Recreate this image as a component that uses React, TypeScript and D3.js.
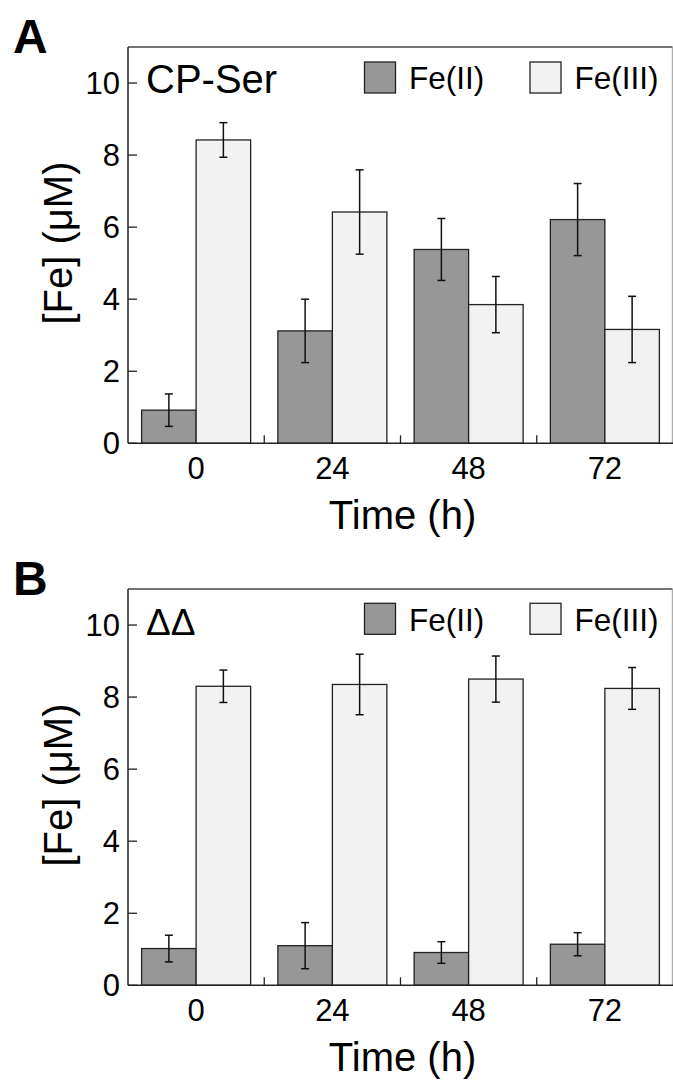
import React from "react";
import * as d3 from "d3";

const times = ["0", "24", "48", "72"];
const seriesNames = ["Fe(II)", "Fe(III)"];
const yTicks = [0, 2, 4, 6, 8, 10];

// Panel A: CP-Ser
const aFe2 = [0.92, 3.12, 5.38, 6.21];
const aFe2Err = [0.45, 0.88, 0.86, 1.0];
const aFe3 = [8.42, 6.42, 3.85, 3.16];
const aFe3Err = [0.48, 1.17, 0.78, 0.92];

// Panel B: ΔΔ
const bFe2 = [1.02, 1.1, 0.91, 1.14];
const bFe2Err = [0.37, 0.64, 0.3, 0.32];
const bFe3 = [8.3, 8.35, 8.5, 8.24];
const bFe3Err = [0.45, 0.84, 0.64, 0.58];

const panels = [
  { letter: "A", label: "CP-Ser", fe2: aFe2, fe2e: aFe2Err, fe3: aFe3, fe3e: aFe3Err },
  { letter: "B", label: "ΔΔ", fe2: bFe2, fe2e: bFe2Err, fe3: bFe3, fe3e: bFe3Err },
];

const FONT = "'Liberation Sans', Arial, Helvetica, sans-serif";
const COLORS = ["#979797", "#f2f2f2"];
const W = 673;
const H = 1081;
const left = 128;
const right = 673;
const panelTop = [47, 589];
const panelBottom = [443.3, 985.3];

function Panel({ p, i }: { p: any; i: number }) {
  const top = panelTop[i];
  const bottom = panelBottom[i];
  const y = d3.scaleLinear().domain([0, 11]).range([bottom, top]);
  const x = d3.scaleBand().domain(times).range([left, right]).padding(0);
  const bw = x.bandwidth() * 0.4;
  const dy = bottom - 443.3;
  const series = [
    { vals: p.fe2, errs: p.fe2e, off: -bw, color: COLORS[0] },
    { vals: p.fe3, errs: p.fe3e, off: 0, color: COLORS[1] },
  ];
  const legendX = [364.5, 530];
  const cx = (t: string) => (x(t) as number) + x.bandwidth() / 2;
  return (
    <g>
      <text x={13} y={52.7 + dy} fontFamily={FONT} fontWeight="bold" fontSize={48} fill="#000">
        {p.letter}
      </text>
      {series.map((s, si) =>
        times.map((t, ti) => {
          const x0 = cx(t) + s.off;
          const yv = y(s.vals[ti]);
          return (
            <rect key={`b${si}-${ti}`} x={x0} y={yv} width={bw} height={bottom - yv}
              fill={s.color} stroke="#222" strokeWidth={1.3} />
          );
        })
      )}
      {series.map((s, si) =>
        times.map((t, ti) => {
          const xc = cx(t) + s.off + bw / 2;
          const y1 = y(s.vals[ti] + s.errs[ti]);
          const y2 = y(s.vals[ti] - s.errs[ti]);
          return (
            <g key={`e${si}-${ti}`} stroke="#111" strokeWidth={1.5}>
              <line x1={xc} x2={xc} y1={y1} y2={y2} />
              <line x1={xc - 4} x2={xc + 4} y1={y1} y2={y1} />
              <line x1={xc - 4} x2={xc + 4} y1={y2} y2={y2} />
            </g>
          );
        })
      )}
      {/* frame */}
      <line x1={left} x2={right - 0.5} y1={top} y2={top} stroke="#444" strokeWidth={1.3} />
      <line x1={right - 0.7} x2={right - 0.7} y1={top} y2={bottom} stroke="#999" strokeWidth={1} />
      <line x1={left} x2={left} y1={top} y2={bottom} stroke="#222" strokeWidth={1.5} />
      <line x1={left} x2={right} y1={bottom} y2={bottom} stroke="#222" strokeWidth={1.5} />
      {yTicks.map((v) => (
        <g key={`yt${v}`}>
          <line x1={left} x2={left + 9} y1={y(v)} y2={y(v)} stroke="#222" strokeWidth={1.3} />
          <text x={120} y={y(v) + 11} textAnchor="end" fontFamily={FONT} fontSize={31} fill="#000">
            {v}
          </text>
        </g>
      ))}
      {times.slice(1).map((t) => (
        <line key={`xt${t}`} x1={x(t) as number} x2={x(t) as number} y1={bottom} y2={bottom - 8}
          stroke="#222" strokeWidth={1.3} />
      ))}
      {times.map((t) => (
        <text key={`xl${t}`} x={cx(t)} y={bottom + 35.5} textAnchor="middle" fontFamily={FONT}
          fontSize={31} fill="#000">
          {t}
        </text>
      ))}
      <text x={(left + right) / 2 + 2} y={bottom + 86} textAnchor="middle" fontFamily={FONT}
        fontSize={40} fill="#000">
        Time (h)
      </text>
      <text transform={`translate(72,${243 + dy}) rotate(-90)`} textAnchor="middle" fontFamily={FONT}
        fontSize={40} fill="#000">
        [Fe] (μM)
      </text>
      <text x={146} y={(p.letter === "A" ? 93.3 : 93) + dy} fontFamily={FONT}
        fontSize={p.letter === "A" ? 40 : 37} fill="#000">
        {p.label}
      </text>
      {seriesNames.map((n, si) => (
        <g key={`lg${si}`}>
          <rect x={legendX[si]} y={62 + dy - (i === 1 ? 0.7 : 0)} width={31} height={31} fill={COLORS[si]}
            stroke="#222" strokeWidth={1.3} />
          <text x={legendX[si] + 44.5} y={89.3 + dy} fontFamily={FONT} fontSize={31.5} fill="#000">
            {n}
          </text>
        </g>
      ))}
    </g>
  );
}

export default function App() {
  return (
    <svg width={W} height={H} style={{ position: "absolute", left: 0, top: 0, background: "#fff" }}>
      <rect x={0} y={0} width={W} height={H} fill="#fff" />
      {panels.map((p, i) => (
        <Panel key={p.letter} p={p} i={i} />
      ))}
    </svg>
  );
}
